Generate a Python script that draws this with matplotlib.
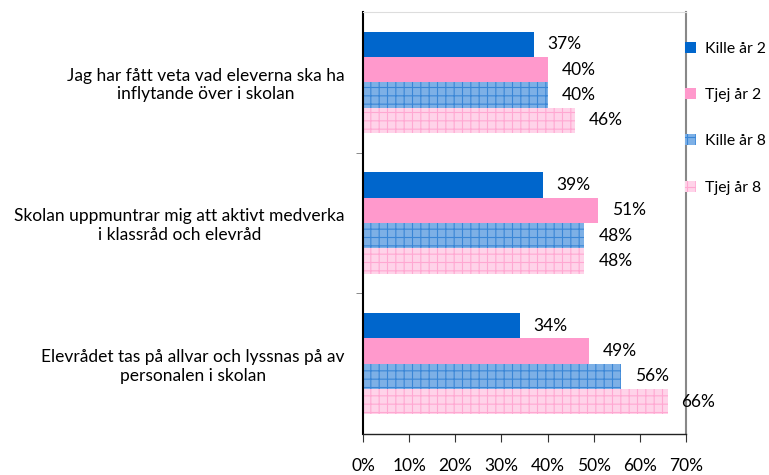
import matplotlib
matplotlib.use("Agg")
import matplotlib.pyplot as plt
import numpy as np

plt.rcParams['font.family'] = ['Lato', 'DejaVu Sans']
plt.rcParams['hatch.linewidth'] = 0.8

categories = [
    "Jag har fått veta vad eleverna ska ha\ninflytande över i skolan",
    "Skolan uppmuntrar mig att aktivt medverka\ni klassråd och elevråd",
    "Elevrådet tas på allvar och lyssnas på av\npersonalen i skolan",
]
series_names = ["Kille år 2", "Tjej år 2", "Kille år 8", "Tjej år 8"]
kille2 = [37, 39, 34]
tjej2 = [40, 51, 49]
kille8 = [40, 48, 56]
tjej8 = [46, 48, 66]
xticks = [0, 10, 20, 30, 40, 50, 60, 70]

series = [kille2, tjej2, kille8, tjej8]
faces = ['#0066CC', '#FF99CC', '#7DB0E6', '#FFD3E9']
edges = ['#0066CC', '#FF99CC', '#3A86D6', '#FFA8D2']
hatches = [None, None, '++', '++']

FS = 12.5

fig = plt.figure(figsize=(7.69, 4.75), dpi=100)
ax = fig.add_axes([363/769, 1-434/475, (686-363)/769, (434-12)/475])

y = np.arange(len(categories))
h = 0.18
offsets = [-1.5*h, -0.5*h, 0.5*h, 1.5*h]
bars_list = []
for vals, off, fc, ec, ht, name in zip(series, offsets, faces, edges, hatches, series_names):
    b = ax.barh(y + off, vals, height=h, color=fc, edgecolor=ec, hatch=ht,
                linewidth=0, label=name, zorder=2)
    bars_list.append(b)
    for yy, v in zip(y + off, vals):
        ax.text(v + 3.0, yy, f"{v}%", va='center', ha='left', fontsize=FS, color='black')

ax.set_xlim(0, 70)
ax.set_ylim(2.5, -0.5)
ax.set_xticks(xticks)
ax.set_xticklabels([f"{t}%" for t in xticks], fontsize=FS)
ax.tick_params(axis='x', direction='out', length=6, pad=11, color='#333333')

ax.set_yticks(y)
ax.set_yticklabels(categories, fontsize=FS)
for lab in ax.get_yticklabels():
    lab.set_multialignment('center')
ax.tick_params(axis='y', which='major', length=0, pad=13)
ax.set_yticks([0.5, 1.5], minor=True)
ax.tick_params(axis='y', which='minor', length=5, color='#777777')

ax.spines['left'].set_color('black')
ax.spines['left'].set_linewidth(1.5)
ax.spines['bottom'].set_color('#222222')
ax.spines['bottom'].set_linewidth(1.0)
ax.spines['top'].set_color('#DDDDDD')
ax.spines['top'].set_linewidth(0.8)
ax.spines['right'].set_color('#888888')
ax.spines['right'].set_linewidth(1.5)

leg = fig.legend(handles=bars_list, labels=series_names, loc='upper left',
                 bbox_to_anchor=(685/769, 1-42/475), frameon=False, fontsize=11.3,
                 handlelength=0.7, handleheight=0.7, handletextpad=0.55,
                 labelspacing=2.05, borderaxespad=0, borderpad=0)

fig.savefig("out.png", dpi=100)
